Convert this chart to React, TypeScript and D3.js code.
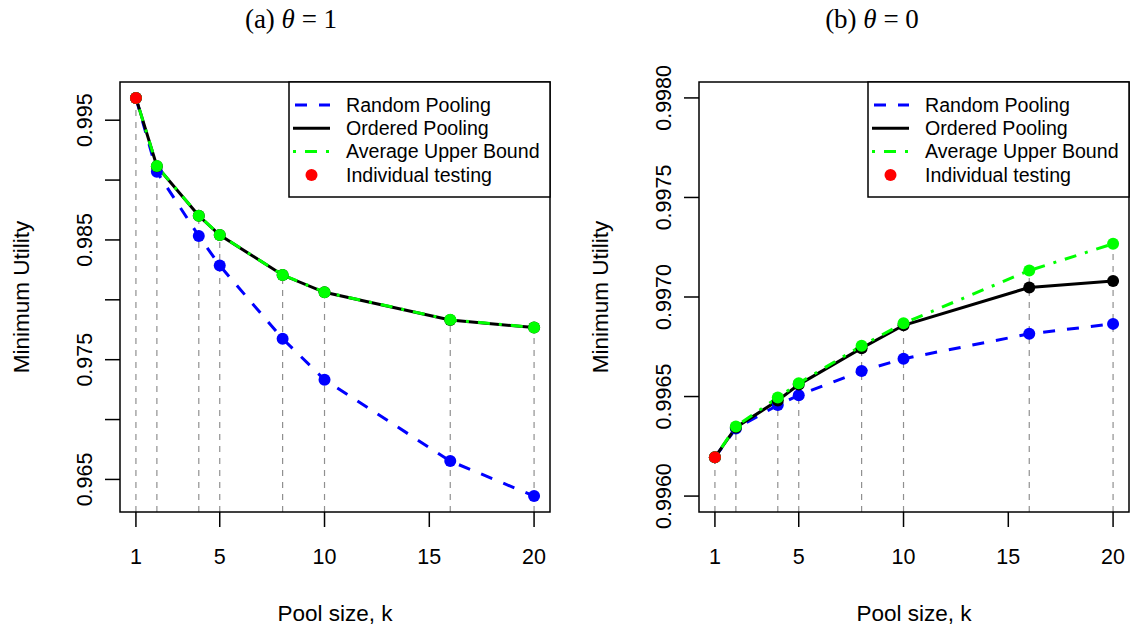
import React from 'react';
import * as d3 from 'd3';

// pool sizes on the x axis
const poolSizes = [1, 2, 4, 5, 8, 10, 16, 20];
const xTicks = [1, 5, 10, 15, 20];

// (a) theta = 1
const randomA = [0.99686, 0.99069, 0.98533, 0.98286, 0.97675, 0.97333, 0.96653, 0.96361];
const orderedA = [0.99686, 0.99116, 0.98702, 0.98541, 0.98207, 0.98063, 0.97832, 0.97768];
const upperA = [0.99686, 0.99117, 0.98703, 0.98542, 0.98208, 0.98064, 0.97833, 0.97769];
const yTicksA = [0.965, 0.97, 0.975, 0.98, 0.985, 0.99, 0.995];
const yLabelsA = ['0.965', '', '0.975', '', '0.985', '', '0.995'];

// (b) theta = 0
const randomB = [0.996195, 0.99634, 0.996457, 0.996507, 0.996628, 0.99669, 0.996815, 0.996865];
const orderedB = [0.996195, 0.996345, 0.99648, 0.99656, 0.996743, 0.996858, 0.997048, 0.99708];
const upperB = [0.996195, 0.99635, 0.996495, 0.996567, 0.996755, 0.996868, 0.997133, 0.997267];
const yTicksB = [0.996, 0.9965, 0.997, 0.9975, 0.998];
const yLabelsB = ['0.9960', '0.9965', '0.9970', '0.9975', '0.9980'];
const ylimB = [0.996, 0.998];

const legendNames = ['Random Pooling', 'Ordered Pooling', 'Average Upper Bound', 'Individual testing'];

const SANS = '"Liberation Sans", Arial, Helvetica, sans-serif';
const BLUE = '#0000ff';
const GREEN = '#00ff00';
const RED = '#ff0000';
const GRAY = '#909090';

type PanelProps = {
  x0: number;
  tag: string;
  thetaVal: string;
  titleX: number;
  random: number[];
  ordered: number[];
  upper: number[];
  ylim: number[];
  yTicks: number[];
  yLabels: string[];
};

function Panel({ x0, tag, thetaVal, titleX, random, ordered, upper, ylim, yTicks, yLabels }: PanelProps) {
  const w = 430;
  const x1 = x0 + w;
  const y0 = 82;
  const y1 = 512;

  const xPad = (20 - 1) * 0.04;
  const x = d3.scaleLinear().domain([1 - xPad, 20 + xPad]).range([x0, x1]);
  const yPad = (ylim[1] - ylim[0]) * 0.04;
  const y = d3.scaleLinear().domain([ylim[0] - yPad, ylim[1] + yPad]).range([y1, y0]);

  const line = d3.line<number>()
    .x((d, i) => x(poolSizes[i]))
    .y(d => y(d));

  const r = 6;
  const lg = { left: x1 - 261, top: y0, h: 115 };

  return (
    <g>
      <text x={titleX} y={28} textAnchor="middle" fontFamily='"Liberation Serif", "Times New Roman", serif' fontSize={27}>
        {tag} <tspan fontStyle="italic">θ</tspan> = {thetaVal}
      </text>

      {/* guide lines */}
      {poolSizes.map((k, i) => (
        <line key={'g' + k} x1={x(k)} x2={x(k)} y1={y1}
          y2={y(Math.max(random[i], ordered[i], upper[i]))}
          stroke={GRAY} strokeWidth={1.2} strokeDasharray="6,6" />
      ))}

      <path d={line(random) || ''} fill="none" stroke={BLUE} strokeWidth={3} strokeDasharray="12,12" />
      <path d={line(ordered) || ''} fill="none" stroke="#000" strokeWidth={3} />
      <path d={line(upper) || ''} fill="none" stroke={GREEN} strokeWidth={3} strokeDasharray="3,9,12,9" />

      {random.map((v, i) => <circle key={'b' + i} cx={x(poolSizes[i])} cy={y(v)} r={r} fill={BLUE} />)}
      {ordered.map((v, i) => <circle key={'k' + i} cx={x(poolSizes[i])} cy={y(v)} r={r} fill="#000" />)}
      {upper.map((v, i) => <circle key={'u' + i} cx={x(poolSizes[i])} cy={y(v)} r={r} fill={GREEN} />)}
      <circle cx={x(poolSizes[0])} cy={y(random[0])} r={r} fill={RED} />

      {/* box */}
      <rect x={x0} y={y0} width={w} height={y1 - y0} fill="none" stroke="#000" strokeWidth={1.5} />

      {/* x axis */}
      {xTicks.map(t => (
        <g key={'xt' + t}>
          <line x1={x(t)} x2={x(t)} y1={y1} y2={y1 + 15} stroke="#000" strokeWidth={1.5} />
          <text x={x(t)} y={564} textAnchor="middle" fontFamily={SANS} fontSize={21.5}>{t}</text>
        </g>
      ))}
      <text x={(x0 + x1) / 2} y={621} textAnchor="middle" fontFamily={SANS} fontSize={22.5}>Pool size, k</text>

      {/* y axis */}
      {yTicks.map((t, i) => (
        <g key={'yt' + i}>
          <line x1={x0 - 15} x2={x0} y1={y(t)} y2={y(t)} stroke="#000" strokeWidth={1.5} />
          {yLabels[i] && (
            <text transform={`translate(${x0 - 28.5},${y(t)}) rotate(-90)`} textAnchor="middle"
              fontFamily={SANS} fontSize={21.5}>{yLabels[i]}</text>
          )}
        </g>
      ))}
      <text transform={`translate(${x0 - 91},${(y0 + y1) / 2}) rotate(-90)`} textAnchor="middle"
        fontFamily={SANS} fontSize={22.5}>Minimum Utility</text>

      {/* legend */}
      <rect x={lg.left} y={lg.top} width={x1 - lg.left} height={lg.h} fill="#fff" stroke="#000" strokeWidth={1.5} />
      {legendNames.map((name, i) => {
        const ry = lg.top + 23 + i * 23.3;
        const sx0 = lg.left + 4;
        const sx1 = lg.left + 41;
        return (
          <g key={name}>
            {i === 0 && <line x1={sx0} x2={sx1} y1={ry} y2={ry} stroke={BLUE} strokeWidth={3} strokeDasharray="12,12" strokeDashoffset={-2} />}
            {i === 1 && <line x1={sx0} x2={sx1} y1={ry} y2={ry} stroke="#000" strokeWidth={3} />}
            {i === 2 && <line x1={sx0} x2={sx1} y1={ry} y2={ry} stroke={GREEN} strokeWidth={3} strokeDasharray="3,9,12,9" />}
            {i === 3 && <circle cx={(sx0 + sx1) / 2} cy={ry} r={r} fill={RED} />}
            <text x={lg.left + 57} y={ry} dy="0.35em" fontFamily={SANS} fontSize={19.6}>{name}</text>
          </g>
        );
      })}
    </g>
  );
}

export default function App() {
  const all = [...randomA, ...orderedA, ...upperA];
  const ylimA = [d3.min(all) as number, d3.max(all) as number];
  return (
    <svg width={1130} height={630} style={{ position: 'absolute', left: 0, top: 0, background: '#fff' }}>
      <rect width={1130} height={630} fill="#fff" />
      <Panel x0={120} tag="(a)" thetaVal="1" titleX={291}
        random={randomA} ordered={orderedA} upper={upperA}
        ylim={ylimA} yTicks={yTicksA} yLabels={yLabelsA} />
      <Panel x0={699} tag="(b)" thetaVal="0" titleX={872}
        random={randomB} ordered={orderedB} upper={upperB}
        ylim={ylimB} yTicks={yTicksB} yLabels={yLabelsB} />
    </svg>
  );
}
